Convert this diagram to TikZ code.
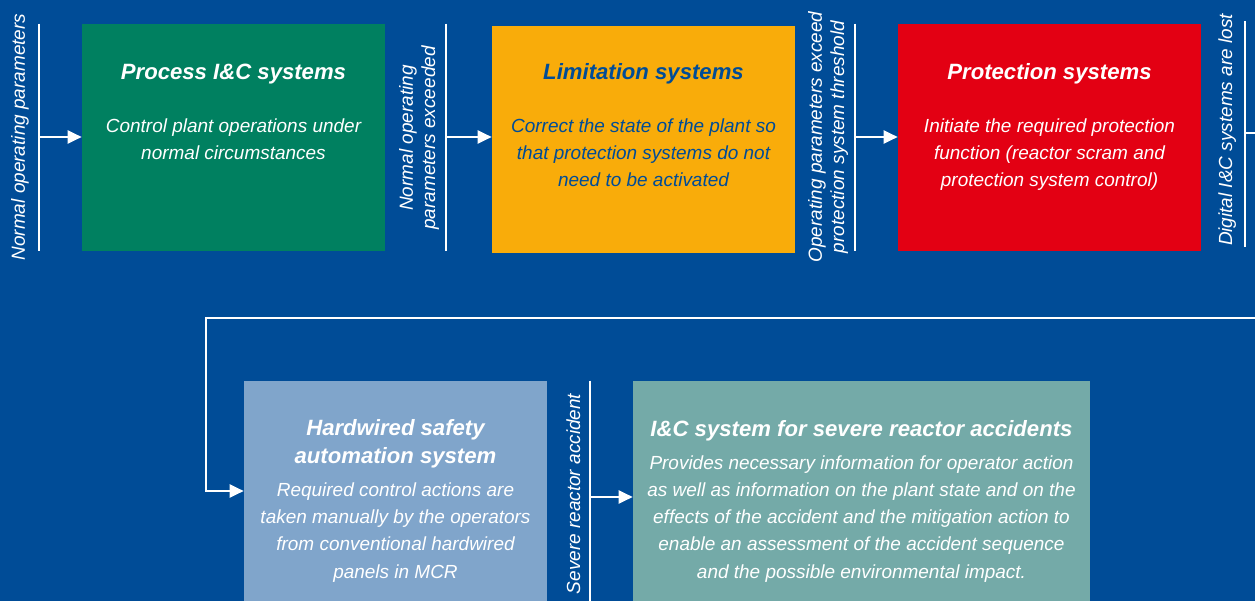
\documentclass[tikz,border=0pt]{standalone}
\usepackage{fontspec}
\setmainfont{Liberation Sans}
\usepackage{xcolor}
\usetikzlibrary{arrows.meta,positioning,calc}

\definecolor{bgblue}{RGB}{0,76,151}
\definecolor{procgreen}{RGB}{0,128,96}
\definecolor{limorange}{RGB}{249,172,10}
\definecolor{protred}{RGB}{227,0,19}
\definecolor{hardblue}{RGB}{128,165,203}
\definecolor{severeteal}{RGB}{116,170,168}

\begin{document}
\begin{tikzpicture}[x=0.02cm, y=-0.02cm,
    every node/.style={font=\itshape\fontsize{10.8}{15.4}\selectfont, text=white, inner sep=0pt},
    sysbox/.style={minimum width=6.06cm, minimum height=4.54cm},
    boxtitle/.style={font=\bfseries\itshape\fontsize{12.6}{15.4}\selectfont, align=center, anchor=base},
    boxtext/.style={align=center, anchor=base},
    sidelabel/.style={rotate=90, align=center, anchor=base, font=\itshape\fontsize{10.8}{12.6}\selectfont},
    bar/.style={white, line width=1.3pt},
    flow/.style={bar, -{Triangle[length=0.28cm, width=0.26cm]}}]
    \useasboundingbox (0,0) rectangle (1255,601);
    \fill[bgblue] (0,0) rectangle (1255,601);

    % top row (text nodes sit on the baseline of their last line)
    \node[sysbox, fill=procgreen] (process) at (233.5,137.5) {};
    \node[sysbox, fill=limorange] (limit) at (643.5,139.5) {};
    \node[sysbox, fill=protred] (protect) at (1049.5,137.5) {};
    \node[boxtitle] (processtitle) at (233.5,80) {Process I\&C systems};
    \node[boxtext] (processtext) at (233.5,160) {Control plant operations under\\normal circumstances};
    \node[boxtitle, text=bgblue] (limittitle) at (643.5,80) {Limitation systems};
    \node[boxtext, text=bgblue] (limittext) at (643.5,187) {Correct the state of the plant so\\that protection systems do not\\need to be activated};
    \node[boxtitle] (protecttitle) at (1049.5,80) {Protection systems};
    \node[boxtext] (protecttext) at (1049.5,187) {Initiate the required protection\\function (reactor scram and\\protection system control)};

    % bottom row
    \node[sysbox, minimum height=4.4cm, fill=hardblue] (hardwired) at (395.5,491) {};
    \node[sysbox, minimum width=9.14cm, minimum height=4.4cm, fill=severeteal] (severe) at (861.5,491) {};
    \node[boxtitle] (hardwiredtitle) at (395.5,463) {Hardwired safety\\automation system};
    \node[boxtext] (hardwiredtext) at (395.5,578) {Required control actions are\\taken manually by the operators\\from conventional hardwired\\panels in MCR};
    \node[boxtitle] (severetitle) at (861.5,437) {I\&C system for severe reactor accidents};
    \node[boxtext] (severetext) at (861.5,578) {Provides necessary information for operator action\\as well as information on the plant state and on the\\effects of the accident and the mitigation action to\\enable an assessment of the accident sequence\\and the possible environmental impact.};

    % side labels
    \node[sidelabel] (normal) at (25,137) {Normal operating parameters};
    \node[sidelabel] (exceeded) at (435,138) {Normal operating\\parameters exceeded};
    \node[sidelabel] (threshold) at (844,137) {Operating parameters exceed\\protection system threshold};
    \node[sidelabel] (lost) at (1232,130) {Digital I\&C systems are lost};
    \node[sidelabel] (accident) at (580,494) {Severe reactor accident};

    % bars and arrows
    \coordinate (in1) at (39,137);
    \coordinate (in2) at (446,137);
    \coordinate (in3) at (855,137);
    \coordinate (out4) at (1245,133);
    \coordinate (edge4) at (1255,133);
    \coordinate (loopin) at (1255,318);
    \coordinate (loopcorner) at (206,318);
    \coordinate (in5) at (590,497);
    \draw[bar] (in1 |- process.north) -- (in1 |- process.south);
    \draw[bar] (in2 |- process.north) -- (in2 |- process.south);
    \draw[bar] (in3 |- protect.north) -- (in3 |- protect.south);
    \draw[bar] (1245,21) -- (1245,247);
    \draw[bar] (in5 |- severe.north) -- (in5 |- severe.south);
    \draw[flow] (in1) -- (in1 -| process.west);
    \draw[flow] (in2) -- (in2 -| limit.west);
    \draw[flow] (in3) -- (in3 -| protect.west);
    \draw[bar] (out4) -- (edge4);
    \draw[flow] (loopin) -- (loopcorner) |- (hardwired.west);
    \draw[flow] (in5) -- (in5 -| severe.west);
  \end{tikzpicture}
\end{document}
